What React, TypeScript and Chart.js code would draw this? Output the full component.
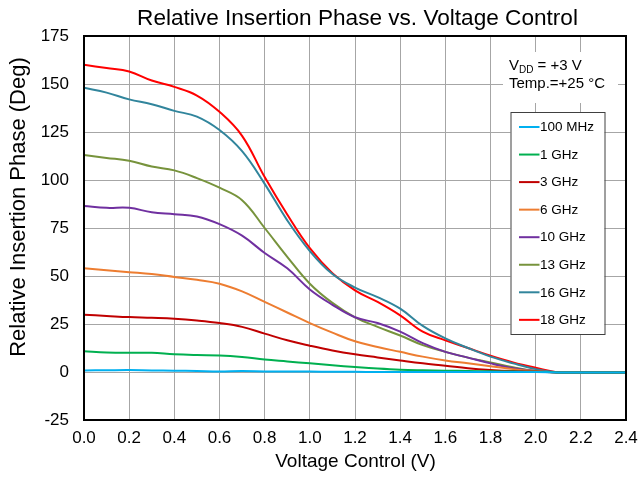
import React, { useEffect, useRef } from "react";
import { Chart, registerables } from "chart.js";

Chart.register(...registerables);

const voltage = [0, 0.1, 0.2, 0.3, 0.4, 0.5, 0.6, 0.7, 0.8, 0.9, 1.0, 1.1, 1.2, 1.3, 1.4, 1.5, 1.6, 1.7, 1.8, 1.9, 2.0, 2.1, 2.2, 2.3, 2.4];

const seriesLabels = ["100 MHz", "1 GHz", "3 GHz", "6 GHz", "10 GHz", "13 GHz", "16 GHz", "18 GHz"];
const seriesColors = ["#00b0f0", "#00b050", "#c00000", "#ed7d31", "#7030a0", "#77933c", "#31859c", "#ff0000"];

const phase100MHz = [0.8, 0.9, 1.0, 0.8, 0.7, 0.5, 0.3, 0.5, 0.3, 0.2, 0.2, 0.1, 0.1, 0, 0, 0, 0, 0, 0, 0, 0, -0.2, -0.3, -0.3, -0.3];
const phase1GHz = [10.8, 10.2, 10.0, 10.0, 9.2, 8.8, 8.6, 7.8, 6.5, 5.5, 4.5, 3.5, 2.6, 1.8, 1.2, 0.9, 0.7, 0.5, 0.4, 0.2, 0.1, -0.2, -0.3, -0.3, -0.3];
const phase3GHz = [29.8, 29.2, 28.6, 28.2, 27.7, 26.8, 25.5, 23.5, 20.0, 16.5, 13.7, 11.2, 9.2, 7.6, 6.0, 4.5, 3.3, 2.0, 1.1, 0.5, 0.2, -0.2, -0.3, -0.3, -0.3];
const phase6GHz = [54.0, 53.0, 52.0, 51.0, 49.5, 48.0, 46.0, 42.0, 36.5, 31.0, 25.5, 20.5, 16.0, 13.0, 10.5, 8.0, 6.0, 4.5, 3.0, 1.5, 0.5, -0.2, -0.3, -0.3, -0.3];
const phase10GHz = [86.5, 85.5, 85.5, 83.2, 82.2, 81.0, 77.0, 71.0, 62.0, 54.0, 43.0, 35.0, 28.5, 25.5, 21.0, 15.0, 10.5, 7.5, 4.5, 2.0, 0.5, -0.2, -0.3, -0.3, -0.3];
const phase13GHz = [113.0, 111.5, 110.0, 107.0, 105.0, 101.0, 96.0, 89.5, 75.0, 60.0, 46.0, 36.0, 28.5, 23.5, 19.0, 14.0, 10.5, 7.5, 5.0, 2.5, 0.5, -0.2, -0.3, -0.3, -0.3];
const phase16GHz = [148.0, 145.5, 142.0, 139.5, 136.0, 133.0, 126.0, 115.0, 98.0, 79.0, 63.0, 51.0, 44.0, 39.0, 33.0, 24.0, 17.5, 12.5, 8.0, 4.5, 1.5, -0.2, -0.3, -0.3, -0.3];
const phase18GHz = [160.0, 158.3, 156.5, 151.8, 148.5, 144.0, 135.5, 123.0, 101.5, 82.0, 64.5, 51.5, 42.5, 36.5, 29.5, 21.0, 16.5, 12.5, 8.5, 5.0, 2.2, -0.2, -0.3, -0.3, -0.3];

const seriesValues = [phase100MHz, phase1GHz, phase3GHz, phase6GHz, phase10GHz, phase13GHz, phase16GHz, phase18GHz];

const yTicks = { min: -25, max: 175, step: 25 };
const xTicks = { min: 0, max: 2.4, step: 0.2 };

const titleText = "Relative Insertion Phase vs. Voltage Control";
const xTitle = "Voltage Control (V)";
const yTitle = "Relative Insertion Phase (Deg)";

const FONT = "'Liberation Sans', Arial, sans-serif";

const decorPlugin = {
  id: "decor",
  beforeDraw(chart: any) {
    const ctx = chart.ctx;
    ctx.save();
    ctx.fillStyle = "#ffffff";
    ctx.fillRect(0, 0, chart.width, chart.height);
    ctx.restore();
  },
  beforeDatasetsDraw(chart: any) {
    const ctx = chart.ctx;
    const a = chart.chartArea;
    ctx.save();
    ctx.fillStyle = "#ffffff";
    ctx.fillRect(a.right - 123, a.top + 16, 115, 51);
    ctx.restore();
  },
  afterDatasetsDraw(chart: any) {
    const ctx = chart.ctx;
    const a = chart.chartArea;
    ctx.save();
    ctx.fillStyle = "#000";
    ctx.textBaseline = "alphabetic";
    ctx.textAlign = "left";
    const ax = a.right - 117;
    const ay = a.top + 34;
    ctx.font = `15px ${FONT}`;
    ctx.fillText("V", ax, ay);
    const w = ctx.measureText("V").width;
    ctx.font = `10px ${FONT}`;
    ctx.fillText("DD", ax + w, ay + 3);
    const w2 = ctx.measureText("DD").width;
    ctx.font = `15px ${FONT}`;
    ctx.fillText(" = +3 V", ax + w + w2, ay);
    ctx.fillText("Temp.=+25 \u00B0C", ax, ay + 17.5);

    const lx = a.left + 426.5;
    const ly = a.top + 76;
    const lw = 94;
    const lh = 222;
    ctx.fillStyle = "#ffffff";
    ctx.fillRect(lx, ly, lw, lh);
    ctx.strokeStyle = "#404040";
    ctx.lineWidth = 1;
    ctx.strokeRect(lx + 0.5, ly + 0.5, lw, lh);
    ctx.font = `13.5px ${FONT}`;
    ctx.textBaseline = "middle";
    chart.data.datasets.forEach((ds: any, i: number) => {
      const yy = ly + 15 + i * 27.55;
      ctx.strokeStyle = ds.borderColor;
      ctx.lineWidth = 2;
      ctx.beginPath();
      ctx.moveTo(lx + 8.5, yy);
      ctx.lineTo(lx + 29, yy);
      ctx.stroke();
      ctx.fillStyle = "#000";
      ctx.fillText(ds.label, lx + 29.5, yy + 0.5);
    });
    ctx.restore();
  },
  afterDraw(chart: any) {
    const ctx = chart.ctx;
    const a = chart.chartArea;
    ctx.save();
    ctx.strokeStyle = "#000";
    ctx.lineWidth = 2;
    ctx.strokeRect(a.left, a.top, a.right - a.left, a.bottom - a.top);
    ctx.fillStyle = "#000";
    ctx.textAlign = "center";
    ctx.textBaseline = "alphabetic";
    ctx.font = `22.6px ${FONT}`;
    ctx.fillText(titleText, 357.5, 25);
    ctx.font = `19px ${FONT}`;
    ctx.fillText(xTitle, 355.5, 467);
    ctx.translate(25, 207);
    ctx.rotate(-Math.PI / 2);
    ctx.font = `22px ${FONT}`;
    ctx.fillText(yTitle, 0, 0);
    ctx.restore();
  },
};

export default function App() {
  const ref = useRef<HTMLCanvasElement | null>(null);
  useEffect(() => {
    if (!ref.current) return;
    const chart = new Chart(ref.current, {
      type: "line",
      data: {
        datasets: seriesLabels.map((label, i) => ({
          label,
          data: voltage.map((v, j) => ({ x: v, y: seriesValues[i][j] })),
          borderColor: seriesColors[i],
          backgroundColor: seriesColors[i],
          borderWidth: 2,
          pointRadius: 0,
          fill: false,
          tension: 0.4,
        })),
      },
      options: {
        animation: false,
        responsive: false,
        maintainAspectRatio: false,
        layout: { padding: { top: 36, right: 13, left: 0, bottom: 0 } },
        plugins: {
          legend: { display: false },
          title: { display: false },
          tooltip: { enabled: false },
        },
        scales: {
          x: {
            type: "linear",
            min: xTicks.min,
            max: xTicks.max,
            afterFit(scale: any) {
              scale.height = 58;
              scale.paddingRight = 0;
              scale.paddingLeft = 0;
            },
            ticks: {
              stepSize: xTicks.step,
              color: "#000",
              font: { family: FONT, size: 17 },
              padding: 8,
              maxRotation: 0,
              autoSkip: false,
              callback: (v: any) => Number(v).toFixed(1),
            },
            grid: { color: "#a6a6a6", lineWidth: 1, drawTicks: false },
            border: { display: false },
          },
          y: {
            type: "linear",
            min: yTicks.min,
            max: yTicks.max,
            afterFit(scale: any) {
              scale.width = 84;
            },
            ticks: {
              stepSize: yTicks.step,
              color: "#000",
              font: { family: FONT, size: 17 },
              padding: 15,
              autoSkip: false,
            },
            grid: { color: "#a6a6a6", lineWidth: 1, drawTicks: false },
            border: { display: false },
          },
        },
      },
      plugins: [decorPlugin],
    });
    return () => chart.destroy();
  }, []);
  return (
    <div style={{ position: "fixed", left: 0, top: 0, width: 639, height: 478, background: "#fff" }}>
      <canvas ref={ref} width={639} height={478} style={{ width: 639, height: 478, display: "block" }} />
    </div>
  );
}
